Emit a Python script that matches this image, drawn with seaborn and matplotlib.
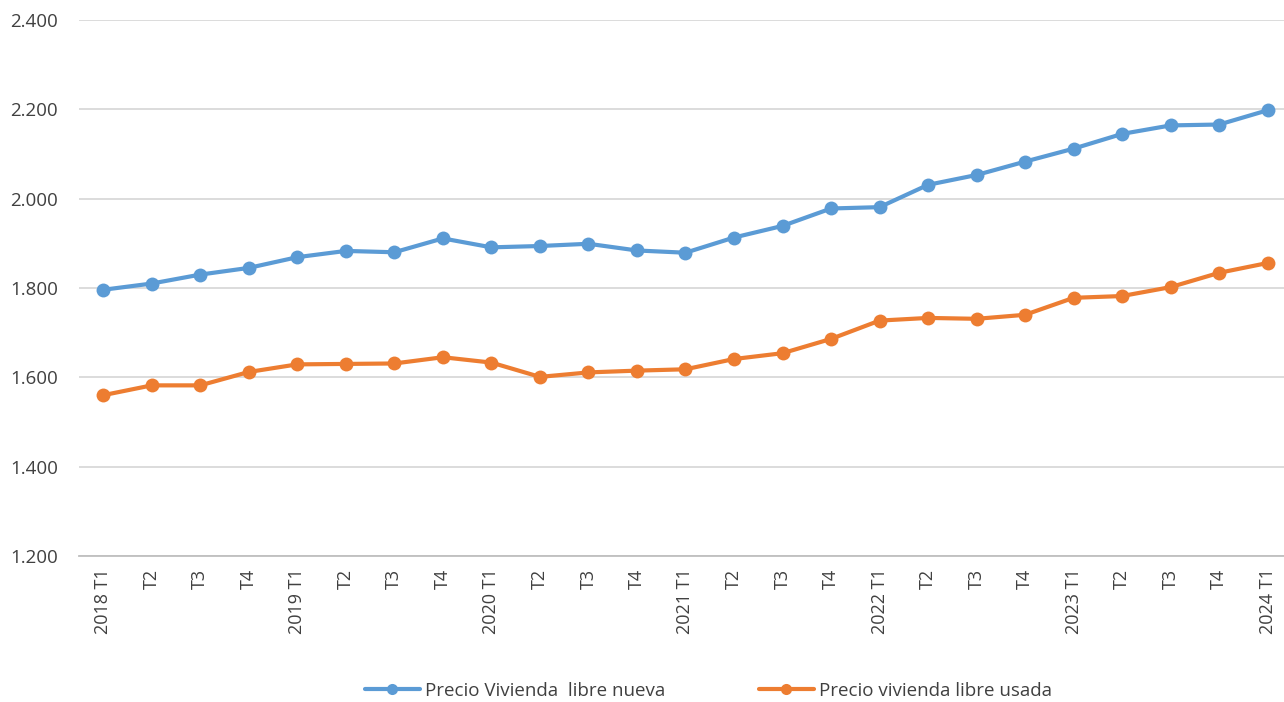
import matplotlib
matplotlib.use("Agg")
import matplotlib.pyplot as plt
import matplotlib.ticker as mticker
import pandas as pd
import seaborn as sns
import numpy as np

# quarters 2018 T1 .. 2024 T1
quarters = ["2018 T1", "T2", "T3", "T4",
            "2019 T1", "T2", "T3", "T4",
            "2020 T1", "T2", "T3", "T4",
            "2021 T1", "T2", "T3", "T4",
            "2022 T1", "T2", "T3", "T4",
            "2023 T1", "T2", "T3", "T4",
            "2024 T1"]

nueva = [1796, 1810, 1830, 1845, 1869, 1883, 1880, 1911, 1891, 1894, 1899, 1884, 1879,
         1913, 1939, 1978, 1981, 2031, 2053, 2083, 2112, 2145, 2164, 2166, 2198]
usada = [1560, 1582, 1582, 1612, 1629, 1630, 1631, 1645, 1633, 1601, 1611, 1615, 1618,
         1641, 1654, 1686, 1727, 1733, 1731, 1740, 1778, 1782, 1802, 1834, 1856]

name_nueva = "Precio Vivienda  libre nueva"
name_usada = "Precio vivienda libre usada"

df = pd.DataFrame({
    "pos": list(range(len(quarters))) * 2,
    "valor": nueva + usada,
    "serie": [name_nueva] * len(nueva) + [name_usada] * len(usada),
})

sns.set_style("white")
plt.rcParams["font.family"] = ["Open Sans", "DejaVu Sans"]

fig = plt.figure(figsize=(12.84, 7.02), dpi=100)
ax = fig.add_axes([0.0615, 0.208, 0.9447, 0.7635])

sns.lineplot(data=df, x="pos", y="valor", hue="serie",
             palette={name_nueva: "#5B9BD5", name_usada: "#ED7D31"},
             marker="o", markersize=10, markeredgewidth=0, linewidth=3,
             ax=ax, legend=True)

ax.set_xlim(-0.5, len(quarters) - 0.5)
ax.set_ylim(1200, 2400)
ax.set_yticks(np.arange(1200, 2401, 200))
ax.yaxis.set_major_formatter(mticker.FuncFormatter(lambda v, p: f"{int(v):,}".replace(",", ".")))
ax.set_xticks(range(len(quarters)))
ax.set_xticklabels(quarters, rotation=90)
ax.set_xticks(np.arange(-0.5, len(quarters), 1), minor=True)
ax.tick_params(axis="x", which="major", length=0, pad=9, labelsize=13, labelcolor="#404040")
ax.tick_params(axis="x", which="minor", length=6, color="#BFBFBF", width=1.2)
ax.tick_params(axis="y", length=0, pad=15, labelsize=13.5, labelcolor="#404040")
ax.set_xlabel("")
ax.set_ylabel("")

ax.grid(axis="y", color="#D9D9D9", linewidth=1.3)
ax.set_axisbelow(True)
for s in ["left", "right", "top"]:
    ax.spines[s].set_visible(False)
ax.spines["bottom"].set_color("#BFBFBF")
ax.spines["bottom"].set_linewidth(1.3)

handles, labels = ax.get_legend_handles_labels()
ax.get_legend().remove()
fig.legend(handles, labels, loc="center", bbox_to_anchor=(0.552, 0.0157), ncol=2,
           frameon=False, fontsize=13.5, handlelength=2.9, columnspacing=5.0,
           handletextpad=0.3, markerscale=0.8, labelcolor="#404040",
           borderpad=0, borderaxespad=0)

fig.savefig("out.png", dpi=100)
